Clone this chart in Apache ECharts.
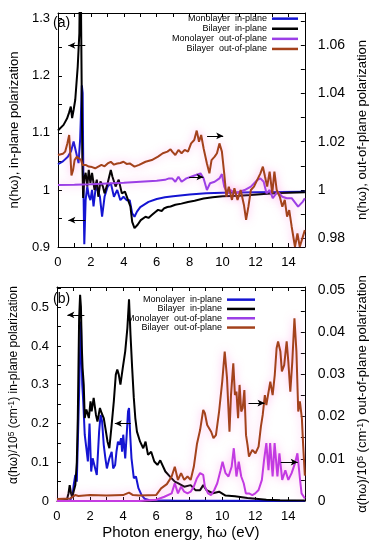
<!DOCTYPE html>
<html><head><meta charset="utf-8">
<script src="https://cdn.jsdelivr.net/npm/echarts@6/dist/echarts.min.js"></script>
<style>html,body{margin:0;padding:0;background:#fff}#c{width:377px;height:550px}</style>
</head><body><div id="c"></div>
<script>
// ---------- series names ----------
const seriesNames = ['Monolayer  in-plane', 'Bilayer  in-plane', 'Monolayer  out-of-plane', 'Bilayer  out-of-plane'];

// ---------- (a) refractive index ----------
const nMonoInX = [0,0.3,0.6,0.8,0.95,1.05,1.15,1.25,1.35,1.45,1.5,1.55,1.6,1.68,1.78,1.87,1.97,2.07,2.16,2.3,2.45,2.55,2.68,2.83,3.02,3.21,3.4,3.6,3.79,3.98,4.17,4.36,4.51,4.65,4.8,5.0,5.5,6.0,6.5,7.0,8.0,9.0,10.0,12.0,15.0];
const nMonoInY = [1.045,1.05,1.058,1.068,1.085,1.088,1.06,1.047,1.09,1.183,1.17,1.0,0.905,0.982,1.006,0.99,0.982,1.0,0.971,1.006,0.997,0.988,0.953,0.988,1.006,1.012,0.988,1.0,0.982,0.988,0.982,0.982,0.959,0.953,0.962,0.97,0.979,0.984,0.987,0.989,0.992,0.994,0.995,0.996,0.997];

const nBiInX = [0,0.34,0.55,0.67,0.78,0.86,0.95,1.05,1.2,1.3,1.36,1.42,1.48,1.53,1.6,1.68,1.78,1.87,1.97,2.07,2.22,2.36,2.45,2.58,2.73,2.83,3.02,3.21,3.31,3.5,3.69,3.88,4.07,4.26,4.4,4.51,4.65,4.84,5.03,5.32,5.5,5.7,5.9,6.08,6.3,6.46,6.65,6.84,7.13,7.5,7.9,8.3,8.85,9.4,10,11,11.7,12.5,13.25,14,15];
const nBiInY = [1.104,1.114,1.125,1.135,1.146,1.126,1.14,1.158,1.216,1.275,1.45,1.25,1.05,0.986,1.02,1.03,1.006,1.035,1.012,1.03,1.0,1.018,0.988,1.015,1.006,0.994,1.012,1.035,1.023,1.006,1.018,0.994,0.997,0.982,0.971,0.944,0.933,0.939,0.947,0.953,0.951,0.956,0.961,0.965,0.963,0.968,0.97,0.971,0.974,0.976,0.979,0.981,0.985,0.987,0.989,0.99,0.991,0.993,0.994,0.995,0.996];

const nMonoOutX = [0,1,2,3,4,5,6,6.5,6.75,6.94,7.13,7.32,7.51,7.8,8.09,8.38,8.66,8.85,9.05,9.24,9.52,9.81,9.96,10.1,10.29,10.48,10.77,11.05,11.34,11.72,12.1,12.3,12.5,12.67,12.86,13.05,13.34,13.63,13.9,14.2,14.59,14.88,15];
const nMonoOutY = [1.0021,1.0022,1.0024,1.0027,1.003,1.0034,1.0038,1.0042,1.0048,1.0048,1.0034,1.0055,1.0034,1.0048,1.0055,1.0062,1.0069,1.0048,1.0,1.0028,1.0034,1.0048,1.0066,1.0014,0.9986,1.0,0.9986,0.9993,1.0,1.0014,1.0041,1.0048,1.0034,0.9986,1.0,0.9966,0.9993,0.9972,0.9966,0.9966,0.9931,0.9952,0.9966];

const nBiOutX = [0,0.3,0.44,0.57,0.68,0.75,0.82,0.92,1.01,1.15,1.25,1.4,1.49,1.68,1.87,2.07,2.26,2.45,2.64,2.83,3.02,3.21,3.4,3.6,3.79,3.98,4.17,4.36,4.65,4.93,5.32,5.7,6.08,6.37,6.65,6.84,6.94,7.13,7.32,7.51,7.7,7.9,8.09,8.28,8.43,8.57,8.7,8.85,9.05,9.2,9.33,9.52,9.66,9.81,9.96,10.1,10.23,10.38,10.57,10.72,10.91,11.1,11.3,11.43,11.57,11.72,11.91,12.1,12.3,12.45,12.58,12.71,12.86,13.02,13.15,13.29,13.48,13.63,13.78,13.92,14.05,14.2,14.4,14.55,14.69,14.88,15];
const nBiOutY = [1.0145,1.015,1.0159,1.0193,1.0228,1.015,1.006,1.0083,1.0124,1.0138,1.0131,1.0124,1.0104,1.0104,1.0097,1.0095,1.009,1.0097,1.0104,1.0098,1.011,1.0117,1.0105,1.011,1.0112,1.0117,1.0108,1.011,1.0097,1.0104,1.0117,1.0124,1.0138,1.0152,1.0159,1.0169,1.0159,1.0145,1.0166,1.0152,1.0166,1.0159,1.0193,1.0207,1.0246,1.02,1.0228,1.0172,1.011,1.0069,1.0124,1.0138,1.0152,1.0193,1.0159,1.0069,0.9972,1.0014,0.9959,1.0007,0.9959,1.0,0.9938,0.9876,0.9931,1.0,1.0014,1.0041,1.0069,1.0097,1.0055,1.0014,1.0076,0.9986,1.0076,1.0,0.9972,0.9931,0.9959,0.989,0.9917,0.9848,0.9765,0.982,0.9765,0.9807,0.9834];

// ---------- (b) absorption ----------
const aMonoInX = [0,0.8,0.95,1.01,1.11,1.2,1.3,1.4,1.45,1.53,1.59,1.68,1.78,1.87,1.97,2.07,2.16,2.26,2.41,2.55,2.64,2.73,2.83,2.93,3.02,3.17,3.31,3.4,3.52,3.6,3.69,3.79,3.88,3.94,4.01,4.13,4.23,4.3,4.36,4.43,4.51,4.65,4.78,4.93,5.12,5.3,5.6,7,10,15];
const aMonoInY = [0,0.002,0.015,0.041,0.067,0.05,0.214,0.386,0.463,0.30,0.257,0.171,0.136,0.102,0.2,0.076,0.11,0.093,0.067,0.179,0.222,0.205,0.145,0.11,0.084,0.11,0.127,0.084,0.093,0.127,0.153,0.145,0.162,0.127,0.171,0.11,0.179,0.231,0.24,0.171,0.11,0.059,0.063,0.033,0.015,0.006,0.002,0.001,0.0005,0];

const aBiInX = [0,0.6,0.7,0.77,0.85,0.92,1.0,1.11,1.2,1.26,1.34,1.4,1.45,1.5,1.55,1.62,1.68,1.78,1.93,2.03,2.1,2.22,2.36,2.45,2.6,2.7,2.83,2.93,3.06,3.17,3.31,3.44,3.56,3.65,3.74,3.84,3.98,4.13,4.26,4.36,4.45,4.55,4.65,4.74,4.84,5.03,5.22,5.36,5.51,5.7,5.89,6.08,6.25,6.37,6.56,6.84,7.13,7.32,7.7,8.09,8.38,8.66,8.85,9.05,9.43,9.81,10.2,10.77,11.53,12.67,13.5,15];
const aBiInY = [0,0.003,0.02,0.041,0.02,0.01,0.012,0.041,0.1,0.214,0.47,0.532,0.5,0.4,0.343,0.3,0.214,0.236,0.214,0.257,0.231,0.266,0.222,0.205,0.24,0.227,0.214,0.188,0.153,0.136,0.197,0.257,0.326,0.339,0.326,0.3,0.343,0.386,0.446,0.52,0.429,0.343,0.266,0.214,0.179,0.153,0.136,0.153,0.119,0.127,0.102,0.093,0.105,0.11,0.076,0.063,0.05,0.046,0.037,0.041,0.028,0.028,0.041,0.028,0.02,0.024,0.014,0.012,0.008,0.003,0.002,0.001];

const aMonoOutX = [0,5,6,6.5,6.94,7.13,7.32,7.51,7.7,7.9,8.09,8.28,8.47,8.66,8.85,8.95,9.14,9.33,9.52,9.7,9.9,10.02,10.2,10.38,10.57,10.7,10.86,11.0,11.15,11.3,11.43,11.62,11.82,12.0,12.2,12.4,12.53,12.67,12.8,12.9,13.05,13.17,13.34,13.46,13.63,13.82,14.0,14.2,14.4,14.55,14.69,14.8,15];
const aMonoOutY = [0,0,0.0003,0.001,0.0018,0.0042,0.0018,0.0034,0.0022,0.0018,0.0022,0.0034,0.0054,0.0066,0.0062,0.0034,0.0018,0.0014,0.0026,0.0042,0.0073,0.0093,0.0066,0.0058,0.0081,0.0125,0.0058,0.0093,0.0058,0.0042,0.0018,0.0018,0.0014,0.0018,0.0026,0.005,0.0097,0.0137,0.0073,0.0137,0.0058,0.0137,0.0058,0.0113,0.005,0.0073,0.005,0.0066,0.0089,0.0113,0.0058,0.0018,0.0006];

const aBiOutX = [0,0.8,1.1,1.3,2,3,4,4.36,4.6,5,6,6.3,6.65,6.94,7.13,7.32,7.51,7.7,7.9,8.09,8.28,8.47,8.66,8.85,8.95,9.09,9.2,9.33,9.47,9.62,9.81,10.0,10.15,10.29,10.44,10.53,10.67,10.77,10.86,10.96,11.05,11.15,11.24,11.34,11.44,11.53,11.62,11.82,12.01,12.2,12.34,12.45,12.58,12.67,12.77,12.91,13.05,13.18,13.29,13.38,13.52,13.61,13.75,13.9,14.0,14.12,14.24,14.37,14.49,14.6,14.7,14.82,14.9,15];
const aBiOutY = [0.0005,0.0006,0.0014,0.0012,0.0014,0.0013,0.0014,0.002,0.0014,0.0013,0.0014,0.003,0.004,0.0058,0.0081,0.005,0.0066,0.005,0.0058,0.005,0.0081,0.0135,0.0168,0.0216,0.0208,0.018,0.0176,0.0164,0.0149,0.0156,0.0212,0.0283,0.0354,0.0291,0.0164,0.0251,0.0326,0.0251,0.0259,0.0196,0.0275,0.0212,0.022,0.0263,0.0156,0.0133,0.0105,0.0121,0.0113,0.0129,0.0176,0.0204,0.0251,0.0227,0.0251,0.0283,0.0251,0.0299,0.0362,0.0378,0.0354,0.0307,0.0322,0.0378,0.033,0.0259,0.033,0.0433,0.0354,0.0212,0.0236,0.0196,0.013,0.006];

// ---------- ticks / labels ----------
const xTicks = [0,1,2,3,4,5,6,7,8,9,10,11,12,13,14,15];
const xLabels = [0,2,4,6,8,10,12,14];
const nInTicks = [0.9,0.95,1.0,1.05,1.1,1.15,1.2,1.25,1.3];
const nInLabels = [0.9,1.0,1.1,1.2,1.3];
const nOutTicks = [0.98,0.99,1.0,1.01,1.02,1.03,1.04,1.05,1.06,1.07];
const nOutLabels = [0.98,1.0,1.02,1.04,1.06];
const aInTicks = [0,0.05,0.1,0.15,0.2,0.25,0.3,0.35,0.4,0.45,0.5,0.55];
const aInLabels = [0,0.1,0.2,0.3,0.4,0.5];
const aOutTicks = [0,0.005,0.01,0.015,0.02,0.025,0.03,0.035,0.04,0.045,0.05];
const aOutLabels = [0,0.01,0.02,0.03,0.04,0.05];

// ---------- annotation arrows [xFrom, yFrom, xTo, yTo] ----------
const arrowsTopLeft = [[1.66,1.253,0.63,1.253],[1.66,0.947,0.63,0.947]];
const arrowsTopRight = [[9.06,1.0224,10.04,1.0224],[7.97,1.0054,8.84,1.0054]];
const arrowsBotLeft = [[1.66,0.48,0.63,0.48],[4.47,0.20,3.5,0.20]];
const arrowsBotRight = [[11.59,0.0232,12.56,0.0232],[13.54,0.0092,14.57,0.0092]];

const FONT = "'Liberation Sans', Arial, Helvetica, sans-serif";
const zip = (xs, ys) => xs.map((x, i) => [x, ys[i]]);
const fmt = v => String(+(+v).toFixed(4));
const arrowLines = arr => ({
  silent: true, symbol: ['none', 'arrow'], symbolSize: [5, 7], animation: false,
  label: {show: false}, lineStyle: {color: '#000', width: 1, type: 'solid'},
  emphasis: {disabled: true},
  data: arr.map(a => [{coord: [a[0], a[1]]}, {coord: [a[2], a[3]]}])
});

const colBlue = '#1414d2', colBlack = '#000000', colViolet = '#9b3fe6', colMagenta = '#c23ae2', colBrown = '#a3421c';
const pinkGlow = {shadowColor: 'rgba(255,110,220,0.5)', shadowBlur: 8};

function xAxisPair(gridIndex, withName) {
  return [{
    type: 'value', gridIndex, min: 0, max: 15, position: 'bottom',
    axisLine: {show: true, onZero: false, lineStyle: {color: '#000', width: 1}},
    axisTick: {show: true, inside: true, length: 4, customValues: xTicks, lineStyle: {color: '#000'}},
    axisLabel: {customValues: xLabels, formatter: fmt, color: '#000', fontSize: 13, fontFamily: FONT, margin: 9},
    splitLine: {show: false},
    name: withName ? 'Photon energy, ħω (eV)' : '', nameLocation: 'middle', nameGap: 24,
    nameTextStyle: {color: '#000', fontSize: 15, fontFamily: FONT}
  }, {
    type: 'value', gridIndex, min: 0, max: 15, position: 'top',
    axisLine: {show: true, onZero: false, lineStyle: {color: '#000', width: 1}},
    axisTick: {show: true, inside: true, length: 4, customValues: xTicks, lineStyle: {color: '#000'}},
    axisLabel: {show: false}, splitLine: {show: false}
  }];
}
function yAxis(gridIndex, pos, min, max, ticks, labels, name, gap, fs, nameFs, namePad, rich) {
  return {
    type: 'value', gridIndex, position: pos, min, max,
    axisLine: {show: true, onZero: false, lineStyle: {color: '#000', width: 1}},
    axisTick: {show: true, inside: true, length: 4, customValues: ticks, lineStyle: {color: '#000'}},
    axisLabel: {customValues: labels, formatter: fmt, color: '#000', fontSize: fs, fontFamily: FONT, margin: pos === 'left' ? 8 : 13},
    splitLine: {show: false},
    name, nameLocation: 'middle', nameGap: gap, nameRotate: 90,
    nameTextStyle: {color: '#000', fontSize: nameFs, fontFamily: FONT, padding: namePad || 0,
      rich: rich ? {sup: {fontSize: nameFs * 0.7, verticalAlign: 'top', fontFamily: FONT, color: '#000', lineHeight: nameFs}} : undefined}
  };
}

const line = (name, xi, yi, data, color, extra) => Object.assign({
  name, type: 'line', xAxisIndex: xi, yAxisIndex: yi, data, symbol: 'none', showSymbol: false,
  animation: false, clip: true, silent: true,
  lineStyle: Object.assign({color, width: 2}, (extra && extra.ls) || {}),
  itemStyle: {color}, emphasis: {disabled: true}
}, extra && extra.s ? extra.s : {});

const legendCommon = {
  orient: 'vertical', align: 'right', icon: 'rect', padding: 0, selectedMode: false,
  itemHeight: 2.5, textStyle: {fontSize: 9, fontFamily: FONT, color: '#000', lineHeight: 9.3},
  data: seriesNames
};

const option = {
  backgroundColor: '#fff',
  animation: false,
  grid: [
    {left: 48, top: 13, width: 264, height: 234},
    {left: 48, top: 287, width: 264, height: 214}
  ],
  legend: [
    Object.assign({}, legendCommon, {right: 79, top: 14, itemWidth: 26, itemGap: 0.8}),
    Object.assign({}, legendCommon, {right: 122, top: 295, itemWidth: 28, itemGap: 0})
  ],
  xAxis: [...xAxisPair(0, false), ...xAxisPair(1, true)],
  yAxis: [
    yAxis(0, 'left', 0.9, 1.31, nInTicks, nInLabels, 'n(hω), in-plane polarization', 28, 13, 13),
    yAxis(0, 'right', 0.9764, 1.0733, nOutTicks, nOutLabels, 'n(hω), out-of-plane polarization', 42, 14, 13),
    yAxis(1, 'left', 0, 0.552, aInTicks, aInLabels, 'α(hω)/10{sup|5} (cm{sup|-1}) in-plane polarization', 28, 13, 12, [0, 0, 0, 18], true),
    yAxis(1, 'right', 0, 0.0507, aOutTicks, aOutLabels, 'α(hω)/10{sup|5} (cm{sup|-1}) out-of-plane polarization', 47, 14, 13, 0, true)
  ],
  graphic: [
    {type: 'text', left: 53, top: 16, style: {text: '(a)', fontSize: 14, fontFamily: FONT, fill: '#000'}},
    {type: 'text', left: 53, top: 292, style: {text: '(b)', fontSize: 14, fontFamily: FONT, fill: '#000'}}
  ],
  series: [
    line(seriesNames[0], 0, 0, zip(nMonoInX, nMonoInY), colBlue),
    line(seriesNames[1], 0, 0, zip(nBiInX, nBiInY), colBlack, {s: {markLine: arrowLines(arrowsTopLeft)}}),
    line(seriesNames[2], 0, 1, zip(nMonoOutX, nMonoOutY), colViolet, {ls: pinkGlow}),
    line(seriesNames[3], 0, 1, zip(nBiOutX, nBiOutY), colBrown, {ls: pinkGlow, s: {markLine: arrowLines(arrowsTopRight)}}),
    line(seriesNames[0], 2, 2, zip(aMonoInX, aMonoInY), colBlue),
    line(seriesNames[1], 2, 2, zip(aBiInX, aBiInY), colBlack, {s: {markLine: arrowLines(arrowsBotLeft)}}),
    line(seriesNames[2], 2, 3, zip(aMonoOutX, aMonoOutY), colMagenta, {ls: pinkGlow}),
    line(seriesNames[3], 2, 3, zip(aBiOutX, aBiOutY), colBrown, {ls: pinkGlow, s: {markLine: arrowLines(arrowsBotRight)}})
  ]
};

const chart = echarts.init(document.getElementById('c'), null, {renderer: 'canvas'});
chart.setOption(option);
</script></body></html>
